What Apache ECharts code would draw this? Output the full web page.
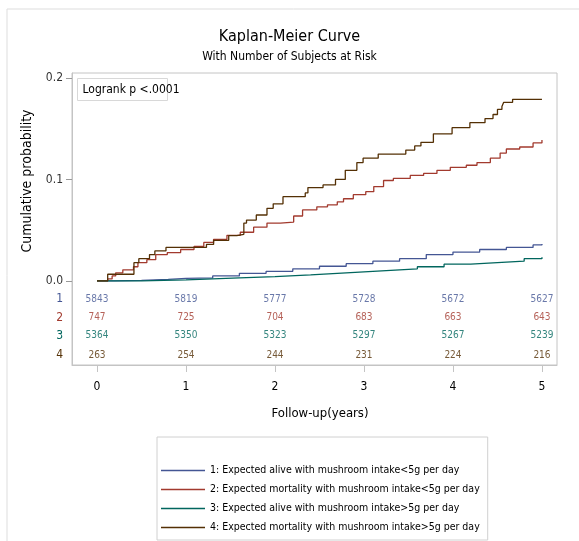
<!DOCTYPE html>
<html>
<head>
<meta charset="utf-8">
<script src="https://cdn.jsdelivr.net/npm/echarts@6/dist/echarts.min.js"></script>
<style>
	html,body{margin:0;padding:0;background:#fff;}
	#kmChart{width:579px;height:541px;}
</style>
</head>
<body>
<div id="kmChart"></div>
<script>
// group names
var groupNames = [
	'1: Expected alive with mushroom intake<5g per day',
	'2: Expected mortality with mushroom intake<5g per day',
	'3: Expected alive with mushroom intake>5g per day',
	'4: Expected mortality with mushroom intake>5g per day'
];
var groupColors = ['#445694', '#A23A2E', '#01665E', '#543005'];

// step curves: [time, cumulative probability]
var curve1 = [[0,0],[0.2,0.0005],[0.5,0.0015],[0.8,0.0025],[1.0,0.003],[1.3,0.005],[1.6,0.0075],[1.9,0.0095],[2.2,0.012],[2.5,0.0145],[2.8,0.017],[3.1,0.0195],[3.4,0.022],[3.7,0.026],[4.0,0.0285],[4.3,0.031],[4.6,0.033],[4.9,0.0355],[5,0.0365]];
var curve2 = [[0,0],[0.12,0.002],[0.17,0.005],[0.21,0.008],[0.29,0.011],[0.41,0.014],[0.46,0.018],[0.56,0.021],[0.66,0.026],[0.79,0.028],[0.94,0.031],[1.09,0.034],[1.2,0.038],[1.31,0.041],[1.46,0.045],[1.61,0.048],[1.76,0.053],[1.91,0.057],[2.06,0.058],[2.21,0.064],[2.31,0.070],[2.47,0.073],[2.59,0.075],[2.7,0.078],[2.77,0.081],[2.88,0.085],[3.02,0.088],[3.11,0.093],[3.22,0.099],[3.33,0.101],[3.52,0.104],[3.67,0.106],[3.82,0.109],[3.97,0.112],[4.15,0.114],[4.27,0.1166],[4.42,0.121],[4.53,0.126],[4.6,0.130],[4.75,0.132],[4.9,0.136],[5.0,0.139]];
var curve3 = [[0,0],[0.5,0.001],[1.0,0.002],[1.3,0.003],[1.6,0.0043],[2.0,0.006],[2.4,0.0075],[2.7,0.009],[3.0,0.0105],[3.3,0.012],[3.6,0.014],[3.9,0.0165],[4.2,0.018],[4.5,0.0195],[4.8,0.022],[5,0.0233]];
var curve4 = [[0,0],[0.12,0.0066],[0.415,0.018],[0.47,0.022],[0.59,0.026],[0.65,0.0296],[0.775,0.033],[1.23,0.036],[1.31,0.040],[1.48,0.0446],[1.57,0.046],[1.65,0.057],[1.68,0.060],[1.79,0.065],[1.91,0.0716],[1.98,0.076],[2.09,0.083],[2.34,0.0867],[2.37,0.092],[2.54,0.0946],[2.68,0.100],[2.79,0.109],[2.92,0.1166],[2.99,0.121],[3.16,0.125],[3.47,0.129],[3.57,0.133],[3.64,0.1366],[3.78,0.145],[3.99,0.151],[4.19,0.156],[4.36,0.160],[4.45,0.164],[4.5,0.169],[4.55,0.172],[4.57,0.176],[4.67,0.179],[5,0.179]];

// number at risk
var riskTimes = [0, 1, 2, 3, 4, 5];
var risk1 = [5843, 5819, 5777, 5728, 5672, 5627];
var risk2 = [747, 725, 704, 683, 663, 643];
var risk3 = [5364, 5350, 5323, 5297, 5267, 5239];
var risk4 = [263, 254, 244, 231, 224, 216];
var riskRowY = [-0.018, -0.036, -0.054, -0.073];

var xTicks = [0, 1, 2, 3, 4, 5];
var yTicks = [0, 0.1, 0.2];

var fontName = '"DejaVu Sans Condensed","Open Sans",sans-serif';

var chartDom = document.getElementById('kmChart');
var myChart = echarts.init(chartDom, null, {renderer:'canvas'});

var curves = [curve1, curve2, curve3, curve4];
var risks = [risk1, risk2, risk3, risk4];

var series = [];
curves.forEach(function(c, i){
	series.push({
		name: groupNames[i],
		type: 'line',
		step: 'end',
		showSymbol: false,
		symbol: 'none',
		lineStyle: {color: groupColors[i], width: 1.3},
		itemStyle: {color: groupColors[i]},
		data: c,
		z: 3
	});
});
risks.forEach(function(r, i){
	series.push({
		name: 'risk' + (i + 1),
		type: 'scatter',
		symbolSize: 0,
		silent: true,
		data: riskTimes.map(function(t, k){ return [t, riskRowY[i], r[k]]; }),
		label: {
			show: true,
			position: 'inside',
			color: groupColors[i],
			fontFamily: fontName,
			fontSize: 10,
			formatter: function(p){ return p.data[2]; }
		}
	});
});

var rowColorByValue = function(v){
	for (var i = 0; i < riskRowY.length; i++) {
		if (Math.abs(v - riskRowY[i]) < 1e-6) return groupColors[i];
	}
	return '#333';
};

var option = {
	backgroundColor: '#fff',
	animation: false,
	title: [
		{
			text: 'Kaplan-Meier Curve',
			left: 'center',
			top: 24,
			textStyle: {fontFamily: fontName, fontSize: 16, fontWeight: 'normal', color: '#000'},
			subtext: 'With Number of Subjects at Risk',
			itemGap: 6,
			subtextStyle: {fontFamily: fontName, fontSize: 12, color: '#000'}
		}
	],
	legend: {
		data: groupNames,
		orient: 'vertical',
		left: 157,
		top: 437,
		padding: [26, 8, 5, 4],
		itemGap: 4,
		itemWidth: 44,
		itemHeight: 1.5,
		icon: 'rect',
		borderColor: '#d0d0d0',
		borderWidth: 1,
		textStyle: {fontFamily: fontName, fontSize: 10.5, color: '#000', lineHeight: 15}
	},
	grid: {
		left: 72,
		right: 22,
		top: 73,
		bottom: 176,
		show: true,
		borderColor: '#c4c4c4',
		borderWidth: 1
	},
	xAxis: {
		type: 'value',
		min: -0.281,
		max: 5.169,
		axisLine: {show: true, onZero: false, lineStyle: {color: '#c4c4c4'}},
		axisTick: {show: true, length: 7, lineStyle: {color: '#c4c4c4'}, customValues: xTicks},
		axisLabel: {customValues: xTicks, margin: 16, color: '#000', fontFamily: fontName, fontSize: 12},
		splitLine: {show: false}
	},
	yAxis: {
		type: 'value',
		min: -0.0828,
		max: 0.2049,
		axisLine: {show: true, onZero: false, lineStyle: {color: '#c4c4c4'}},
		axisTick: {show: true, length: 6, lineStyle: {color: '#999'}, customValues: yTicks},
		axisLabel: {
			customValues: yTicks.concat(riskRowY),
			margin: 9,
			fontFamily: fontName,
			fontSize: 12,
			color: function(v){ return rowColorByValue(Number(v)); },
			formatter: function(v){
				for (var i = 0; i < riskRowY.length; i++) {
					if (Math.abs(v - riskRowY[i]) < 1e-6) return String(i + 1);
				}
				return v.toFixed(1);
			}
		},
		splitLine: {show: false}
	},
	graphic: [
		{
			type: 'rect',
			shape: {x: 7, y: 9, width: 580, height: 540},
			style: {fill: 'none', stroke: '#dddddd', lineWidth: 1},
			silent: true
		},
		{
			type: 'group',
			left: 77,
			top: 78,
			children: [
				{type: 'rect', shape: {x: 0, y: 0, width: 90, height: 22}, style: {fill: '#fff', stroke: '#d8d8d8', lineWidth: 1}},
				{type: 'text', x: 5, y: 5, style: {text: 'Logrank p <.0001', fontFamily: fontName, fontSize: 12, fill: '#000'}}
			],
			z: 10
		},
		{
			type: 'text',
			x: 27,
			y: 181,
			rotation: Math.PI / 2,
			style: {text: 'Cumulative probability', fontFamily: fontName, fontSize: 14, fill: '#000', textAlign: 'center', textVerticalAlign: 'middle'}
		},
		{
			type: 'text',
			x: 320,
			y: 414,
			style: {text: 'Follow-up(years)', fontFamily: fontName, fontSize: 13, fill: '#000', textAlign: 'center', textVerticalAlign: 'middle'}
		}
	],
	series: series
};
myChart.setOption(option);
</script>
</body>
</html>
